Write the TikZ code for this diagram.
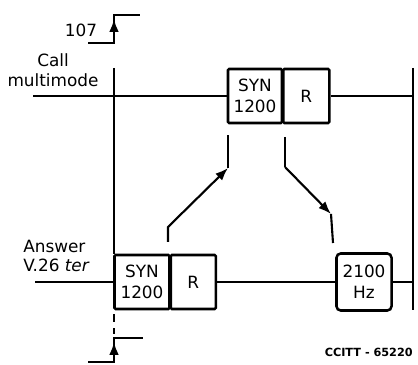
\documentclass[tikz,border=0pt]{standalone}
\usepackage{fontspec}
\setmainfont{DejaVu Sans}
\usetikzlibrary{arrows.meta}

\begin{document}
\begin{tikzpicture}[
  x=0.025cm, y=-0.025cm,
  box/.style={draw, line width=1.8pt, rounded corners=0.8pt, inner sep=0pt,
              minimum height=1.35cm, font=\fontsize{12}{15}\selectfont, align=center},
  lbl/.style={font=\fontsize{12}{14}\selectfont, align=center, inner sep=0pt},
  ln/.style={line width=1.5pt},
  arr/.style={-{Latex[length=3.2mm, width=2.4mm]}, line width=1.5pt},
]
\useasboundingbox (0,0) rectangle (418,365);

% boxes
\node[box, minimum width=1.35cm] (syncall) at (255,96) {SYN\\1200};
\node[box, minimum width=1.15cm, anchor=west, xshift=-0.9pt] (rcall) at (syncall.east) {R};
\node[box, minimum width=1.375cm] (synans) at (142,282) {SYN\\1200};
\node[box, minimum width=1.125cm, anchor=west, xshift=-0.9pt] (rans) at (synans.east) {R};
\node[box, minimum width=1.375cm, minimum height=1.425cm, rounded corners=3pt] (hz) at (364,282) {2100\\Hz};

% labels
\node[lbl] (call) at (53,70) {Call\\multimode};
\node[lbl, align=left, anchor=west] (answer) at (23,256) {Answer\\V.26 \textit{ter}};
\node[lbl] (num) at (81,30) {107};
\node[font=\bfseries\fontsize{8}{9}\selectfont, anchor=east, inner sep=0pt] (ref) at (413,352) {CCITT - 65220};

% end points
\coordinate (callin) at (33,96);  \coordinate (callout) at (413,96);
\coordinate (ansin) at (35,282);  \coordinate (ansout) at (413,282);
\coordinate (ltop) at (114,68);   \coordinate (rtop) at (413,68);
\coordinate (rbot) at (413,310);
\coordinate (dtop) at (114,314);  \coordinate (dbot) at (114,334);

% lines
\draw[ln] (callin) -- (syncall.west);
\draw[ln] (rcall.east) -- (callout);
\draw[ln] (ansin) -- (synans.west);
\draw[ln] (rans.east) -- (hz.west);
\draw[ln] (hz.east) -- (ansout);
\draw[ln] (ltop) -- (ltop |- synans.north);
\draw[ln] (rtop) -- (rbot);
\draw[ln, dash pattern=on 6pt off 4pt] (dtop) -- (dbot);

% 107 steps
\coordinate (t1) at (88,43);  \coordinate (t2) at (114,15);  \coordinate (t3) at (140,15);
\coordinate (ttip) at (114,19);
\draw[ln] (t1) -| (t2) -- (t3);
\draw[arr] (t1 -| t2) -- (ttip);
\coordinate (u1) at (88,362); \coordinate (u2) at (114,338); \coordinate (u3) at (143,338);
\coordinate (utip) at (114,342);
\draw[ln] (u1) -| (u2) -- (u3);
\draw[arr] (u1 -| u2) -- (utip);

% answer -> call
\coordinate (a1) at (168,242); \coordinate (a2) at (168,227);
\coordinate (a3) at (228,168); \coordinate (a4) at (228,135);
\draw[arr] (a1) -- (a2) -- (a3);
\draw[ln] (a3) -- (a4);

% call -> answer
\coordinate (b1) at (285,137); \coordinate (b2) at (285,167);
\coordinate (b3) at (331,214); \coordinate (b4) at (333,243);
\draw[ln] (b1) -- (b2);
\draw[arr] (b2) -- (b3);
\draw[ln] (b3) -- (b4);
\end{tikzpicture}
\end{document}
